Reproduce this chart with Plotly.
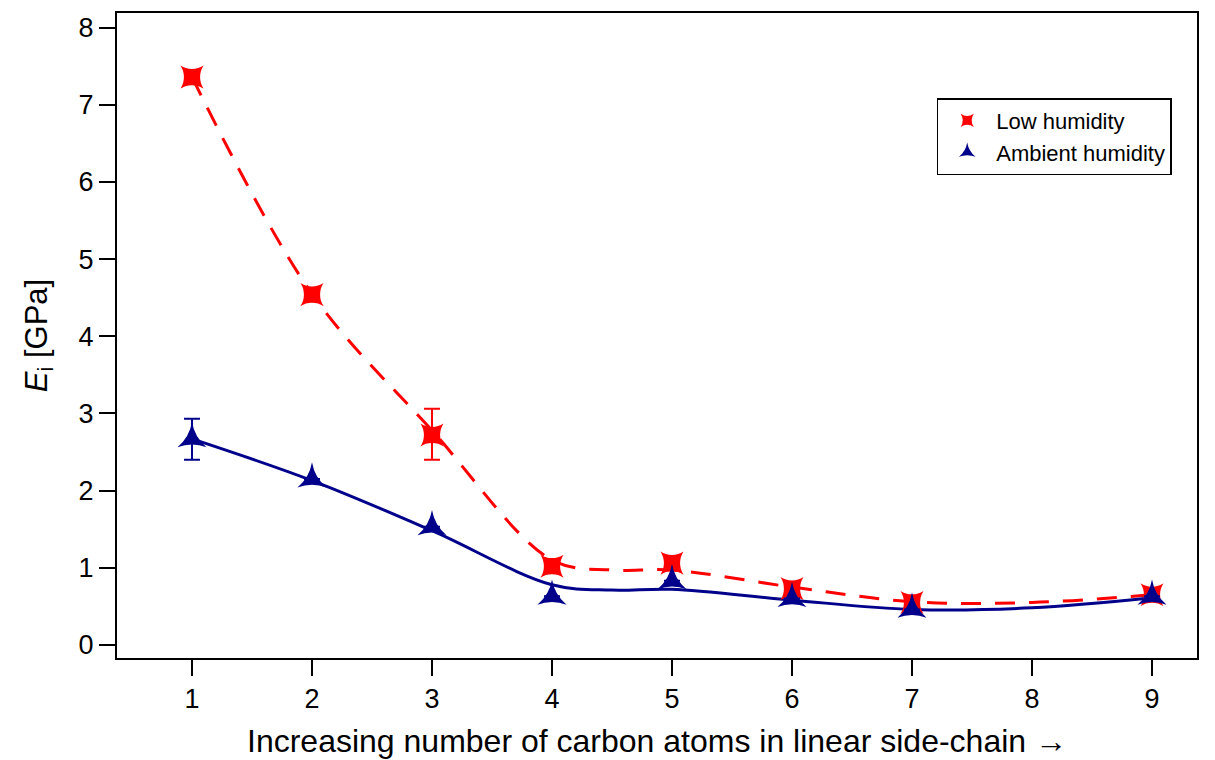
import plotly.graph_objects as go

# Number of carbon atoms in the linear side-chain
carbons = [1, 2, 3, 4, 5, 6, 7, 9]

# Indentation modulus E_i [GPa]
low_humidity = [7.36, 4.54, 2.72, 1.02, 1.06, 0.73, 0.55, 0.65]
low_err_plus = [0, 0, 0.34, 0, 0, 0, 0, 0]
low_err_minus = [0, 0, 0.32, 0, 0, 0, 0, 0]

ambient_humidity = [2.67, 2.15, 1.53, 0.63, 0.83, 0.60, 0.46, 0.63]
amb_err_plus = [0.26, 0, 0, 0, 0, 0, 0, 0]
amb_err_minus = [0.27, 0, 0, 0, 0, 0, 0, 0]

# Smoothed trend curves
trend_x = [1, 2, 3, 4, 4.5, 5, 6, 7, 8, 9]
low_trend = [7.36, 4.55, 2.78, 1.10, 0.97, 0.97, 0.75, 0.56, 0.55, 0.65]
amb_trend = [2.67, 2.13, 1.48, 0.78, 0.71, 0.72, 0.58, 0.46, 0.48, 0.61]

x_ticks = [1, 2, 3, 4, 5, 6, 7, 8, 9]
y_ticks = [0, 1, 2, 3, 4, 5, 6, 7, 8]

RED = "#ff0000"
BLUE = "#00008b"
FONT = "Liberation Sans, Arial, sans-serif"

fig = go.Figure()

fig.add_trace(go.Scatter(
    x=trend_x, y=low_trend, mode="lines", line_shape="spline",
    line=dict(color=RED, width=3, dash="20px,14px"),
    showlegend=False, hoverinfo="skip"))
fig.add_trace(go.Scatter(
    x=trend_x, y=amb_trend, mode="lines", line_shape="spline",
    line=dict(color=BLUE, width=3),
    showlegend=False, hoverinfo="skip"))

fig.add_trace(go.Scatter(
    x=carbons, y=low_humidity, mode="markers", name="Low humidity",
    marker=dict(symbol="star-square", size=21, color=RED),
    error_y=dict(type="data", symmetric=False, array=low_err_plus,
                 arrayminus=low_err_minus, color=RED, thickness=2, width=8),
    showlegend=False))
fig.add_trace(go.Scatter(
    x=carbons, y=ambient_humidity, mode="markers", name="Ambient humidity",
    marker=dict(symbol="star-triangle-up", size=21, color=BLUE),
    error_y=dict(type="data", symmetric=False, array=amb_err_plus,
                 arrayminus=amb_err_minus, color=BLUE, thickness=2, width=8),
    showlegend=False))

# Legend entries with small symbols
fig.add_trace(go.Scatter(
    x=[None], y=[None], mode="markers", name="Low humidity",
    marker=dict(symbol="star-square", size=12, color=RED)))
fig.add_trace(go.Scatter(
    x=[None], y=[None], mode="markers", name="Ambient humidity",
    marker=dict(symbol="star-triangle-up", size=12, color=BLUE)))

axis_common = dict(
    showline=True, linecolor="black", linewidth=2, mirror=True,
    ticks="outside", ticklen=16, tickwidth=2, tickcolor="black",
    showgrid=False, zeroline=False, automargin=False,
    tickfont=dict(family=FONT, size=27, color="black"),
)

fig.update_layout(
    width=1215, height=760,
    margin=dict(l=117, r=18, t=13, b=102),
    paper_bgcolor="white", plot_bgcolor="white",
    font=dict(family=FONT, color="black"),
    xaxis=dict(range=[0.375, 9.375], tickvals=x_ticks,
               title=dict(text="Increasing number of carbon atoms in linear side-chain \u2192",
                          font=dict(family=FONT, size=32), standoff=16),
               **axis_common),
    yaxis=dict(range=[-0.17, 8.19], tickvals=y_ticks,
               title=dict(text="<i>E</i><sub>i</sub> [GPa]",
                          font=dict(family=FONT, size=31), standoff=22),
               **axis_common),
    legend=dict(x=0.759, y=0.868, xanchor="left", yanchor="top",
                bgcolor="white", bordercolor="black", borderwidth=1.5,
                font=dict(family=FONT, size=22), itemsizing="trace",
                itemwidth=48, tracegroupgap=0),
)

fig.write_html("out.html")
